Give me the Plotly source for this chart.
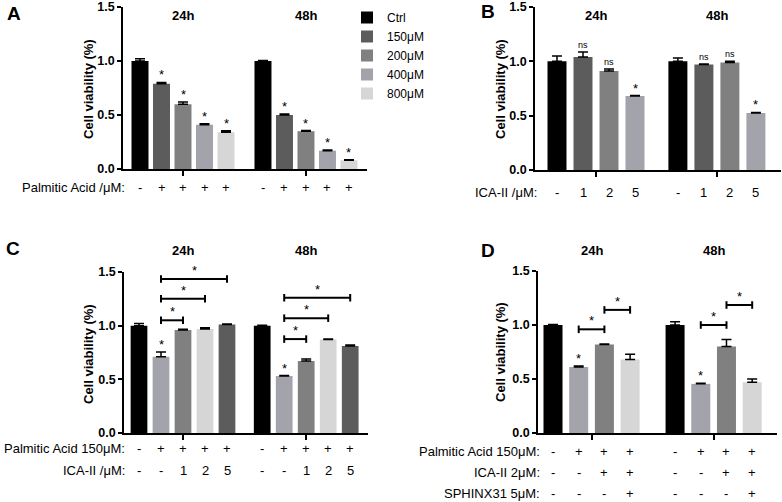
import plotly.graph_objects as go

W, H = 782, 502
FONT = "Liberation Sans, Arial, sans-serif"

# ---- Panel A: palmitic acid dose response ----
a_doses = ["Ctrl", "150μM", "200μM", "400μM", "800μM"]
a_24h = [1.00, 0.79, 0.60, 0.41, 0.34]
a_24h_err = [0.02, 0.012, 0.02, 0.01, 0.015]
a_48h = [1.00, 0.50, 0.35, 0.17, 0.08]
a_48h_err = [0.005, 0.01, 0.006, 0.006, 0.005]
a_signs = ["-", "+", "+", "+", "+"]
a_marks = ["", "*", "*", "*", "*"]
a_colors = ["#000000", "#5c5c5c", "#808080", "#a3a3ab", "#d6d6d6"]

# ---- Panel B: ICA-II alone ----
b_doses = ["-", "1", "2", "5"]
b_24h = [1.00, 1.04, 0.91, 0.68]
b_24h_err = [0.05, 0.045, 0.02, 0.005]
b_48h = [1.00, 0.97, 0.99, 0.525]
b_48h_err = [0.03, 0.005, 0.01, 0.005]
b_marks = ["", "ns", "ns", "*"]
b_colors = ["#000000", "#5c5c5c", "#808080", "#a3a3ab"]

# ---- Panel C: PA + ICA-II ----
c_pa = ["-", "+", "+", "+", "+"]
c_ica = ["-", "-", "1", "2", "5"]
c_24h = [1.00, 0.71, 0.96, 0.97, 1.01]
c_24h_err = [0.02, 0.045, 0.006, 0.01, 0.005]
c_48h = [1.00, 0.53, 0.67, 0.87, 0.81]
c_48h_err = [0.004, 0.005, 0.02, 0.005, 0.01]
c_marks = ["", "*", "", "", ""]
c_colors = ["#000000", "#a3a3ab", "#808080", "#d6d6d6", "#5c5c5c"]
c_pairs = [(1, 2), (1, 3), (1, 4)]
c_24h_bracket = [1.05, 1.25, 1.435]
c_48h_bracket = [0.875, 1.07, 1.26]

# ---- Panel D: PA + ICA-II + SPHINX31 ----
d_pa = ["-", "+", "+", "+"]
d_ica = ["-", "-", "+", "+"]
d_sphinx = ["-", "-", "-", "+"]
d_24h = [1.00, 0.61, 0.82, 0.68]
d_24h_err = [0.005, 0.01, 0.005, 0.05]
d_48h = [1.00, 0.455, 0.80, 0.47]
d_48h_err = [0.03, 0.005, 0.065, 0.03]
d_marks = ["", "*", "", ""]
d_colors = ["#000000", "#a3a3ab", "#808080", "#d6d6d6"]
d_pairs = [(1, 2), (2, 3)]
d_24h_bracket = [0.96, 1.14]
d_48h_bracket = [1.0, 1.185]


def px(x):
    return x / W


def py(y):
    return 1 - y / H


# panel geometry in pixels: axis left/right, y of 0 and of 1.5, bar step, gap between groups
panels = {
    "A": dict(n="", left=123, right=367, y0=169, y1=7, first=140, step=21.5, gap=5.72, bw=0.79),
    "B": dict(n="2", left=535, right=781, y0=170, y1=7, first=557, step=26, gap=4.65, bw=0.73),
    "C": dict(n="3", left=124, right=368, y0=433, y1=272, first=139, step=22, gap=5.6, bw=0.76),
    "D": dict(n="4", left=538, right=777, y0=433, y1=271, first=553, step=25.7, gap=4.75, bw=0.74),
}

fig = go.Figure()
annotations = []
shapes = []


def pos(p, group, i):
    return i + (p["gap"] if group == 1 else 0)


def txt(**kw):
    kw.setdefault("showarrow", False)
    kw.setdefault("xanchor", "center")
    kw.setdefault("yanchor", "middle")
    annotations.append(kw)


def add_panel(key, vals24, err24, vals48, err48, colors, marks, mark_size=13):
    p = panels[key]
    n = len(vals24)
    xs = [pos(p, 0, i) for i in range(n)] + [pos(p, 1, i) for i in range(n)]
    ys = list(vals24) + list(vals48)
    errs = list(err24) + list(err48)
    fig.add_trace(go.Bar(
        x=xs, y=ys, width=p["bw"], marker=dict(color=list(colors) * 2, line_width=0),
        error_y=dict(type="data", array=errs, arrayminus=[0] * len(errs), symmetric=False,
                     color="black", thickness=1.5, width=5),
        xaxis="x" + p["n"], yaxis="y" + p["n"], showlegend=False, hoverinfo="skip",
    ))
    for x, y, e, m in zip(xs, ys, errs, list(marks) * 2):
        if m:
            txt(x=x, y=y + e, xref="x" + p["n"], yref="y" + p["n"], text=m, yanchor="bottom",
                font=dict(size=mark_size if m == "*" else 9, family=FONT, color="black"),
                yshift=-2 if m == "*" else 0)


def add_brackets(key, group, pairs, heights):
    p = panels[key]
    xr, yr = "x" + p["n"], "y" + p["n"]
    for (i, j), h in zip(pairs, heights):
        x0, x1 = pos(p, group, i), pos(p, group, j)
        line = dict(color="black", width=2)
        shapes.append(dict(type="line", xref=xr, yref=yr, x0=x0, x1=x1, y0=h, y1=h, line=line))
        for xx in (x0, x1):
            shapes.append(dict(type="line", xref=xr, yref=yr, x0=xx, x1=xx, y0=h - 0.035, y1=h + 0.035, line=line))
        txt(x=(x0 + x1) / 2, y=h, xref=xr, yref=yr, text="*", yanchor="bottom", yshift=-1,
            font=dict(size=13, family=FONT, color="black"))


def add_row(key, label, signs, ypix, label_right):
    p = panels[key]
    txt(x=px(label_right), y=py(ypix), xref="paper", yref="paper", text=label, xanchor="right",
        font=dict(size=13, family=FONT, color="black"))
    for g in (0, 1):
        for i, s in enumerate(signs):
            txt(x=pos(p, g, i), y=py(ypix), xref="x" + p["n"], yref="paper", text=s,
                font=dict(size=13, family=FONT, color="black"))


# Panel A: one trace per dose so the legend is built from the data
pA = panels["A"]
for i, dose in enumerate(a_doses):
    fig.add_trace(go.Bar(
        x=[pos(pA, 0, i), pos(pA, 1, i)], y=[a_24h[i], a_48h[i]], width=pA["bw"], name=dose,
        marker=dict(color=a_colors[i], line_width=0),
        error_y=dict(type="data", array=[a_24h_err[i], a_48h_err[i]], arrayminus=[0, 0], symmetric=False,
                     color="black", thickness=1.5, width=5),
        hoverinfo="skip",
    ))
    for g, (v, e) in enumerate([(a_24h[i], a_24h_err[i]), (a_48h[i], a_48h_err[i])]):
        if a_marks[i]:
            txt(x=pos(pA, g, i), y=v + e, xref="x", yref="y", text=a_marks[i], yanchor="bottom", yshift=-2,
                font=dict(size=13, family=FONT, color="black"))

add_panel("B", b_24h, b_24h_err, b_48h, b_48h_err, b_colors, b_marks)
add_panel("C", c_24h, c_24h_err, c_48h, c_48h_err, c_colors, c_marks)
add_panel("D", d_24h, d_24h_err, d_48h, d_48h_err, d_colors, d_marks)

add_brackets("C", 0, c_pairs, c_24h_bracket)
add_brackets("C", 1, c_pairs, c_48h_bracket)
add_brackets("D", 0, d_pairs, d_24h_bracket)
add_brackets("D", 1, d_pairs, d_48h_bracket)

add_row("A", "Palmitic Acid /μM:", a_signs, 187, 127)
add_row("B", "ICA-II /μM:", b_doses, 192, 539)
add_row("C", "Palmitic Acid 150μM:", c_pa, 448, 127)
add_row("C", "ICA-II /μM:", c_ica, 470, 127)
add_row("D", "Palmitic Acid 150μM:", d_pa, 451, 542)
add_row("D", "ICA-II 2μM:", d_ica, 472, 542)
add_row("D", "SPHINX31 5μM:", d_sphinx, 493, 542)

# panel letters, time headers and y titles
letters = {"A": (14, 14), "B": (488, 12), "C": (13, 248), "D": (488, 250)}
headers_y = {"A": 16, "B": 16, "C": 250, "D": 250}
ytitle_pos = {"A": (88, 89), "B": (500, 89), "C": (88, 354), "D": (500, 352)}
n_bars = {"A": 5, "B": 4, "C": 5, "D": 4}

layout_axes = {}
for key, p in panels.items():
    lx, ly = letters[key]
    txt(x=px(lx), y=py(ly), xref="paper", yref="paper", text="<b>%s</b>" % key,
        font=dict(size=19, family=FONT, color="black"))
    for g, lab in enumerate(["24h", "48h"]):
        txt(x=pos(p, g, (n_bars[key] - 1) / 2), y=py(headers_y[key]), xref="x" + p["n"], yref="paper",
            text="<b>%s</b>" % lab, font=dict(size=13, family=FONT, color="black"))
    tx, ty = ytitle_pos[key]
    txt(x=px(tx), y=py(ty), xref="paper", yref="paper", text="<b>Cell viability (%)</b>", textangle=-90,
        font=dict(size=13, family=FONT, color="black"))

    left = (p["left"] - p["first"]) / p["step"]
    right = (p["right"] - p["first"]) / p["step"]
    mid = (n_bars[key] - 1) / 2
    layout_axes["xaxis" + p["n"]] = dict(
        domain=[px(p["left"]), px(p["right"])], range=[left, right], anchor="y" + p["n"],
        showline=True, linecolor="black", linewidth=1.5, showgrid=False, zeroline=False,
        tickvals=[pos(p, 0, mid), pos(p, 1, mid)], ticks="outside", ticklen=5, tickwidth=1.5,
        tickcolor="black", showticklabels=False, automargin=False, fixedrange=True,
    )
    layout_axes["yaxis" + p["n"]] = dict(
        domain=[py(p["y0"]), py(p["y1"])], range=[0, 1.5], anchor="x" + p["n"],
        showline=True, linecolor="black", linewidth=1.5, showgrid=False, zeroline=False,
        tickvals=[0, 0.5, 1.0, 1.5], ticktext=["<b>0.0</b>", "<b>0.5</b>", "<b>1.0</b>", "<b>1.5</b>"],
        ticks="outside", ticklen=4, tickwidth=1.5, automargin=False, fixedrange=True,
        tickcolor="black", tickfont=dict(size=12.5, family=FONT, color="black"),
    )

fig.update_layout(
    width=W, height=H, margin=dict(l=0, r=0, t=0, b=0, autoexpand=False),
    paper_bgcolor="white", plot_bgcolor="white", barmode="overlay",
    showlegend=True,
    legend=dict(x=px(347), y=py(3), xanchor="left", yanchor="top", bgcolor="rgba(0,0,0,0)",
                font=dict(size=12, family=FONT, color="black"), itemclick=False, itemdoubleclick=False),
    annotations=annotations, shapes=shapes,
    **layout_axes,
)

# the page's default 8px body margin would push the 782x502 figure off the window
fig.write_html("out.html", config={"displayModeBar": False},
               post_script="document.body.style.margin='0';document.body.style.overflow='hidden';")
